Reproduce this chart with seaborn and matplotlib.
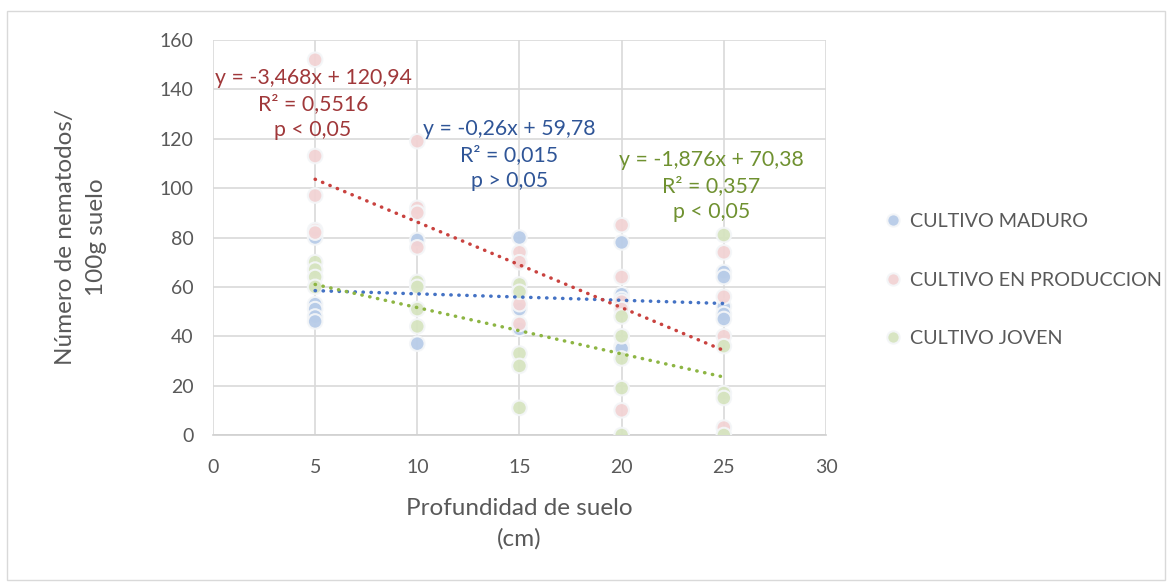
import matplotlib
matplotlib.use("Agg")
import matplotlib.pyplot as plt
import seaborn as sns
import pandas as pd
import numpy as np
from matplotlib.patches import Rectangle

# valores
maduro_x = [5, 5, 5, 5, 5, 10, 10, 15, 15, 15, 20, 20, 20, 20, 20, 25, 25, 25, 25, 25]
maduro_y = [80, 53, 51, 48, 46, 79, 37, 80, 51, 43, 78, 57, 55, 36, 35, 66, 64, 52, 49, 47]

produccion_x = [5, 5, 5, 5, 5, 10, 10, 10, 10, 15, 15, 15, 15, 20, 20, 20, 20, 20, 25, 25, 25, 25]
produccion_y = [152, 113, 97, 83, 82, 119, 92, 90, 76, 74, 70, 53, 45, 85, 64, 54, 51, 10, 74, 56, 40, 3]

joven_x = [5, 5, 5, 5, 10, 10, 10, 10, 15, 15, 15, 15, 15, 20, 20, 20, 20, 20, 25, 25, 25, 25, 25]
joven_y = [70, 67, 64, 60, 62, 60, 51, 44, 61, 58, 33, 28, 11, 48, 40, 31, 19, 0, 81, 36, 17, 15, 0]

series = ["CULTIVO MADURO", "CULTIVO EN PRODUCCION", "CULTIVO JOVEN"]
pendientes = [-0.26, -3.468, -1.876]
intercepts = [59.78, 120.94, 70.38]
ecuaciones = ["y = -0,26x + 59,78\nR² = 0,015\np > 0,05",
              "y = -3,468x + 120,94\nR² = 0,5516\np < 0,05",
              "y = -1,876x + 70,38\nR² = 0,357\np < 0,05"]

colores_punto = ["#b8cce8", "#f2d3d4", "#d6e4c0"]
colores_linea = ["#4472c4", "#c9423f", "#8db543"]
colores_texto = ["#2f5597", "#a0383a", "#6f9130"]
pos_texto = [(14.5, 128.2), (4.9, 148.8), (24.4, 115.6)]

df = pd.concat([
    pd.DataFrame({"x": maduro_x, "y": maduro_y, "serie": series[0]}),
    pd.DataFrame({"x": produccion_x, "y": produccion_y, "serie": series[1]}),
    pd.DataFrame({"x": joven_x, "y": joven_y, "serie": series[2]}),
])

sns.set_theme(style="white")
plt.rcParams["font.family"] = ["Lato", "DejaVu Sans"]

fig = plt.figure(figsize=(11.72, 5.84), dpi=100)
ax = fig.add_axes([0.1817, 0.2551, 0.5231, 0.6764])

sns.scatterplot(data=df, x="x", y="y", hue="serie", palette=colores_punto,
                s=110, edgecolor="#f4f6f8", linewidth=1.5, alpha=0.95, ax=ax, zorder=3)

xs = np.array([5, 25])
for m, b, c in zip(pendientes, intercepts, colores_linea):
    ax.plot(xs, m * xs + b, color=c, linestyle=(0, (0.1, 2.2)), linewidth=2.5,
            dash_capstyle="round", zorder=4)

for t, (tx, ty), c in zip(ecuaciones, pos_texto, colores_texto):
    ax.text(tx, ty, t, color=c, fontsize=15.3, ha="center", va="top",
            linespacing=1.4, zorder=5)

ax.set_xlim(0, 30)
ax.set_ylim(0, 160)
ax.set_xticks(range(0, 31, 5))
ax.set_yticks(range(0, 161, 20))
ax.grid(True, color="#d9d9d9", linewidth=1.2)
ax.set_axisbelow(True)
for s in ["top", "right", "left"]:
    ax.spines[s].set_visible(False)
ax.spines["bottom"].set_color("#d0d0d0")
ax.spines["bottom"].set_linewidth(1.2)
ax.tick_params(axis="both", length=0, labelsize=14, colors="#595959")
ax.tick_params(axis="y", pad=14)
ax.tick_params(axis="x", pad=17)

ax.set_xlabel("Profundidad de suelo\n(cm)", fontsize=17.5, color="#595959", labelpad=16,
              linespacing=1.55)
ax.set_ylabel("Número de nematodos/\n100g suelo", fontsize=17.5, color="#595959", labelpad=38,
              linespacing=1.6)

handles, labels = ax.get_legend_handles_labels()
ax.legend(handles, labels, loc="center left", bbox_to_anchor=(1.064, 0.392), frameon=False,
          fontsize=14.2, labelspacing=2.1, handlelength=1, handletextpad=0.35,
          markerscale=0.85, labelcolor="#595959")

fig.patches.append(Rectangle((0.006, 0.006), 0.988, 0.976, transform=fig.transFigure,
                             fill=False, edgecolor="#d9d9d9", linewidth=1))

fig.savefig("out.png", dpi=100)
